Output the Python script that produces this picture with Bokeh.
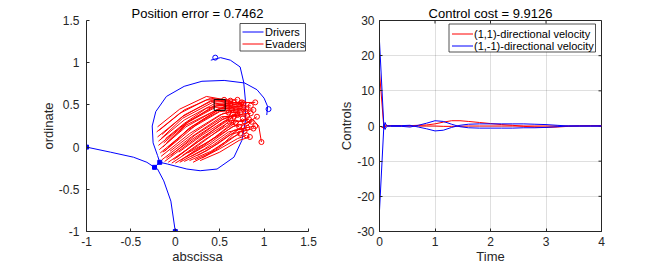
from bokeh.plotting import figure
from bokeh.layouts import row
from bokeh.models import FixedTicker
from bokeh.core.properties import value
from bokeh.embed import file_html
from bokeh.resources import INLINE

# ---------------- data: left panel ----------------
driver_xs = [
    [-1.0, -0.73, -0.47, -0.32, -0.234, -0.175, -0.20, -0.25, -0.26, -0.22, -0.10, 0.10, 0.30, 0.55, 0.78, 0.92, 1.00, 1.04, 1.03],
    [0.0, -0.05, -0.13, -0.20, -0.234, -0.175, -0.09, 0.13, 0.28, 0.47, 0.66, 0.75, 0.79, 0.79, 0.77, 0.73, 0.62, 0.51, 0.40],
]
driver_ys = [
    [0.0, -0.06, -0.12, -0.18, -0.24, -0.18, -0.10, 0.05, 0.25, 0.42, 0.60, 0.72, 0.78, 0.79, 0.76, 0.68, 0.58, 0.48, 0.38],
    [-1.0, -0.64, -0.40, -0.26, -0.24, -0.18, -0.20, -0.26, -0.28, -0.26, -0.12, 0.08, 0.31, 0.55, 0.77, 0.95, 1.03, 1.06, 1.03],
]
driver_mark_x = [-1.0, 0.0, -0.234, -0.175]
driver_mark_y = [0.0, -1.0, -0.24, -0.18]
driver_end_x = [1.05, 0.45]
driver_end_y = [0.45, 1.06]

evader_xs = [
    [-0.20, 0.05, 0.35, 0.62],
    [-0.21, 0.05, 0.35, 0.70],
    [-0.20, 0.08, 0.40, 0.77],
    [-0.19, 0.10, 0.45, 0.90],
    [-0.19, 0.10, 0.45, 0.85],
    [-0.18, 0.12, 0.48, 0.73],
    [-0.17, 0.14, 0.50, 0.68],
    [-0.16, 0.16, 0.50, 0.77],
    [-0.15, 0.18, 0.52, 0.81],
    [-0.12, 0.20, 0.52, 0.73],
    [-0.08, 0.24, 0.55, 0.66],
    [-0.04, 0.26, 0.55, 0.62],
    [0.00, 0.30, 0.58, 0.68],
    [0.05, 0.33, 0.60, 0.81],
    [0.10, 0.36, 0.62, 0.88],
    [0.16, 0.40, 0.65, 0.73],
    [0.22, 0.45, 0.70, 0.88, 0.94, 0.97],
    [0.30, 0.50, 0.70, 0.80],
    [-0.10, 0.15, 0.45, 0.75],
    [-0.12, 0.15, 0.48, 0.62],
    [-0.05, 0.22, 0.55, 0.85],
    [0.02, 0.28, 0.60, 0.78],
    [-0.18, 0.10, 0.40, 0.66],
    [0.08, 0.32, 0.62, 0.72],
    [-0.14, 0.12, 0.50, 0.80],
    [0.12, 0.38, 0.64, 0.86],
    [-0.16, 0.08, 0.42, 0.58],
    [0.18, 0.42, 0.66, 0.90],
    [-0.10, 0.20, 0.55, 0.70],
    [-0.02, 0.25, 0.58, 0.83],
    [0.25, 0.48, 0.72, 0.78],
    [-0.15, 0.10, 0.40, 0.55],
    [-0.08, 0.18, 0.52, 0.88],
    [0.04, 0.30, 0.60, 0.64],
    [-0.13, 0.14, 0.46, 0.72],
    [0.14, 0.40, 0.68, 0.76],
    [-0.06, 0.22, 0.54, 0.79],
    [0.28, 0.50, 0.72, 0.84],
    [-0.14, 0.05, 0.30, 0.55, 0.74],
    [0.06, 0.22, 0.45, 0.66, 0.70],
    [0.20, 0.35, 0.55, 0.75, 0.92],
    [-0.11, 0.10, 0.35, 0.62, 0.60],
]
evader_ys = [
    [0.24, 0.45, 0.60, 0.55],
    [0.18, 0.40, 0.56, 0.56],
    [0.12, 0.36, 0.55, 0.52],
    [0.07, 0.32, 0.52, 0.53],
    [0.02, 0.27, 0.47, 0.49],
    [-0.03, 0.24, 0.45, 0.48],
    [-0.07, 0.20, 0.42, 0.44],
    [-0.11, 0.16, 0.38, 0.47],
    [-0.15, 0.12, 0.36, 0.37],
    [-0.17, 0.08, 0.32, 0.41],
    [-0.18, 0.05, 0.30, 0.36],
    [-0.19, 0.02, 0.25, 0.33],
    [-0.19, 0.00, 0.22, 0.29],
    [-0.18, -0.02, 0.18, 0.23],
    [-0.17, -0.04, 0.15, 0.22],
    [-0.16, -0.05, 0.12, 0.16],
    [-0.15, -0.04, 0.15, 0.32, 0.25, 0.06],
    [-0.13, -0.02, 0.10, 0.14],
    [0.05, 0.30, 0.50, 0.53],
    [-0.05, 0.22, 0.44, 0.51],
    [-0.10, 0.14, 0.36, 0.40],
    [-0.12, 0.10, 0.32, 0.30],
    [0.20, 0.44, 0.58, 0.53],
    [-0.10, 0.08, 0.28, 0.24],
    [0.00, 0.26, 0.46, 0.45],
    [-0.12, 0.04, 0.24, 0.30],
    [0.10, 0.34, 0.53, 0.49],
    [-0.11, 0.02, 0.20, 0.25],
    [-0.13, 0.10, 0.34, 0.38],
    [-0.15, 0.06, 0.28, 0.33],
    [-0.10, 0.04, 0.22, 0.19],
    [0.15, 0.38, 0.54, 0.56],
    [0.00, 0.24, 0.44, 0.44],
    [-0.06, 0.14, 0.34, 0.44],
    [0.05, 0.30, 0.49, 0.50],
    [-0.07, 0.08, 0.26, 0.34],
    [-0.05, 0.18, 0.40, 0.42],
    [-0.16, -0.06, 0.08, 0.12],
    [-0.06, 0.10, 0.32, 0.48, 0.52],
    [-0.16, -0.04, 0.12, 0.30, 0.40],
    [-0.18, -0.10, 0.05, 0.25, 0.36],
    [0.10, 0.28, 0.46, 0.52, 0.41],
]
target_x = [0.5]
target_y = [0.5]

left_xticks = [-1, -0.5, 0, 0.5, 1, 1.5]
left_xtick_labels = ["-1", "-0.5", "0", "0.5", "1", "1.5"]
left_yticks = [-1, -0.5, 0, 0.5, 1, 1.5]
left_ytick_labels = ["-1", "-0.5", "0", "0.5", "1", "1.5"]
left_legend_labels = ["Drivers", "Evaders"]

# ---------------- data: right panel ----------------
time = [0, 0.08, 0.1, 0.12, 0.15, 0.2, 0.4, 0.55, 0.7, 0.85, 1.0, 1.15, 1.3, 1.45,
        1.6, 1.8, 2.0, 2.2, 2.4, 2.6, 2.8, 3.0, 3.2, 3.4, 3.6, 3.8, 4.0]
u11_a = [15.3, -0.8, -0.3, 0.1, 0.0, 0.1, 0.1, 0.1, 0.2, 0.3, 0.6, 1.1, 1.5, 1.5,
         1.3, 1.0, 0.7, 0.4, 0.2, -0.1, -0.3, -0.4, -0.3, -0.1, 0.05, 0.1, 0.1]
u11_b = [0.0, -0.6, 0.3, 0.2, 0.1, 0.1, 0.0, 0.0, 0.0, 0.0, 0.0, -0.1, -0.1, -0.1,
         0.0, 0.0, 0.0, 0.0, 0.0, 0.0, 0.0, 0.0, 0.0, 0.0, 0.0, 0.0, 0.0]
u1m1_a = [24.0, -0.5, 1.0, 0.3, 0.0, -0.1, -0.1, -0.3, 0.2, 0.8, 1.5, 1.3, 0.5, -0.2,
          -0.5, -0.6, -0.6, -0.6, -0.6, -0.5, -0.5, -0.4, -0.2, 0.0, 0.0, 0.0, 0.0]
u1m1_b = [-24.0, 0.5, -1.0, -0.3, 0.0, 0.1, 0.1, 0.2, -0.3, -0.8, -1.4, -1.2, -0.4, 0.2,
          0.5, 0.6, 0.6, 0.6, 0.6, 0.6, 0.5, 0.4, 0.2, 0.0, 0.0, 0.0, 0.0]

right_xticks = [0, 1, 2, 3, 4]
right_xtick_labels = ["0", "1", "2", "3", "4"]
right_yticks = [-30, -20, -10, 0, 10, 20, 30]
right_ytick_labels = ["-30", "-20", "-10", "0", "10", "20", "30"]
right_legend_labels = ["(1,1)-directional velocity", "(1,-1)-directional velocity"]

FONT = "Liberation Sans"
AX = "#262626"
BLUE = "#0000FF"
RED = "#FF0000"

# layout (pixels inside each 332x266 figure)
FIG_W, FIG_H = 332, 266
BORDER_TOP, BORDER_BOTTOM = 20, 35
LEFT_BORDERS = (86, 24)
RIGHT_BORDERS = (47, 63)
TICK_LEN = 3
# legend boxes, pixels relative to the frame's top-left corner:
# (box_left, box_top, box_right, box_bottom, glyph_x0, glyph_x1, text_x, row_ys)
LEFT_LEG_BOX = (153.5, 3.0, 219.0, 30.5, 156.0, 177.0, 178.5, (11.5, 23.5))
RIGHT_LEG_BOX = (69.5, 3.5, 216.0, 31.5, 72.5, 93.5, 94.5, (13.5, 25.5))


def frame_size(borders):
    return FIG_W - borders[0] - borders[1], FIG_H - BORDER_TOP - BORDER_BOTTOM


def style_axes(p, xt, xl, yt, yl):
    p.xaxis.ticker = FixedTicker(ticks=xt)
    p.yaxis.ticker = FixedTicker(ticks=yt)
    p.xaxis.major_label_overrides = dict(zip(xt, xl))
    p.yaxis.major_label_overrides = dict(zip(yt, yl))
    for ax in p.axis:
        ax.major_tick_in = TICK_LEN
        ax.major_tick_out = 0
        ax.minor_tick_line_color = None
        ax.axis_line_color = AX
        ax.major_tick_line_color = AX
        ax.major_label_text_color = AX
        ax.major_label_text_font = FONT
        ax.major_label_text_font_size = "12px"
        ax.axis_label_text_font = FONT
        ax.axis_label_text_font_size = "13px"
        ax.axis_label_text_font_style = "normal"
        ax.axis_label_text_color = AX
        ax.axis_label_standoff = 0
    p.xaxis.major_label_standoff = 5
    p.yaxis.major_label_standoff = 7
    p.title.align = "center"
    p.title.text_font = FONT
    p.title.text_font_size = "13px"
    p.title.text_font_style = "normal"
    p.title.text_color = "#000000"
    p.title.standoff = 0


def draw_legend(p, xr, yr, borders, box, labels, colors):
    fw, fh = frame_size(borders)

    def dx(px):
        return xr[0] + px / fw * (xr[1] - xr[0])

    def dy(py):
        return yr[1] - py / fh * (yr[1] - yr[0])

    bl, bt, br, bb, g0, g1, tx, rows = box
    p.quad(left=[dx(bl)], right=[dx(br)], top=[dy(bt)], bottom=[dy(bb)],
           fill_color="white", line_color=AX, line_width=0.8)
    for r, c in zip(rows, colors):
        p.line(x=[dx(g0), dx(g1)], y=[dy(r), dy(r)], line_color=c, line_width=1)
    p.text(x=[dx(tx)] * len(rows), y=[dy(r) for r in rows], text=labels,
           text_font=value(FONT), text_font_size=value("11px"),
           text_baseline="middle", text_align="left", text_color="#000000")


# ---------------- left figure ----------------
left_xr, left_yr = (-1, 1.5), (-1, 1.5)
p1 = figure(width=FIG_W, height=FIG_H, x_range=left_xr, y_range=left_yr,
            output_backend="svg", toolbar_location=None,
            min_border_left=LEFT_BORDERS[0], min_border_right=LEFT_BORDERS[1],
            min_border_top=BORDER_TOP, min_border_bottom=BORDER_BOTTOM,
            title="Position error = 0.7462")
p1.outline_line_color = None
p1.grid.grid_line_color = None
p1.xaxis.axis_label = "abscissa"
p1.yaxis.axis_label = "ordinate"
style_axes(p1, left_xticks, left_xtick_labels, left_yticks, left_ytick_labels)

p1.multi_line(xs=driver_xs, ys=driver_ys, line_color=BLUE, line_width=1)
p1.scatter(driver_mark_x, driver_mark_y, marker="square", size=4,
           fill_color=BLUE, line_color=BLUE)
p1.scatter(driver_end_x, driver_end_y, marker="circle", size=5,
           fill_color=None, line_color=BLUE, line_width=1)
p1.multi_line(xs=evader_xs, ys=evader_ys, line_color=RED, line_width=1)
p1.scatter([xs[-1] for xs in evader_xs], [ys[-1] for ys in evader_ys],
           marker="circle", size=5, fill_color=None, line_color=RED, line_width=1)
p1.scatter(target_x, target_y, marker="square", size=11, fill_color=None,
           line_color="#000000", line_width=1)
draw_legend(p1, left_xr, left_yr, LEFT_BORDERS, LEFT_LEG_BOX, left_legend_labels, [BLUE, RED])

# ---------------- right figure ----------------
right_xr, right_yr = (0, 4), (-30, 30)
p2 = figure(width=FIG_W, height=FIG_H, x_range=right_xr, y_range=right_yr,
            output_backend="svg", toolbar_location=None,
            min_border_left=RIGHT_BORDERS[0], min_border_right=RIGHT_BORDERS[1],
            min_border_top=BORDER_TOP, min_border_bottom=BORDER_BOTTOM,
            title="Control cost = 9.9126")
p2.outline_line_color = AX
p2.outline_line_width = 1
p2.grid.grid_line_color = AX
p2.grid.grid_line_alpha = 0.15
p2.xgrid.ticker = FixedTicker(ticks=right_xticks)
p2.ygrid.ticker = FixedTicker(ticks=right_yticks)
p2.xaxis.axis_label = "Time"
p2.yaxis.axis_label = "Controls"
style_axes(p2, right_xticks, right_xtick_labels, right_yticks, right_ytick_labels)
p2.yaxis.major_label_standoff = 5

# box-on tick marks along the top and right edges (inward, like the axis ticks)
fw2, fh2 = frame_size(RIGHT_BORDERS)
tick_dy = TICK_LEN / fh2 * (right_yr[1] - right_yr[0])
tick_dx = TICK_LEN / fw2 * (right_xr[1] - right_xr[0])
p2.segment(x0=right_xticks, x1=right_xticks, y0=[right_yr[1]] * len(right_xticks),
           y1=[right_yr[1] - tick_dy] * len(right_xticks), line_color=AX, line_width=1)
p2.segment(x0=[right_xr[1]] * len(right_yticks), x1=[right_xr[1] - tick_dx] * len(right_yticks),
           y0=right_yticks, y1=right_yticks, line_color=AX, line_width=1)

p2.line(time, u11_a, line_color=RED, line_width=1)
p2.line(time, u11_b, line_color=RED, line_width=1)
p2.line(time, u1m1_a, line_color=BLUE, line_width=1)
p2.line(time, u1m1_b, line_color=BLUE, line_width=1)
draw_legend(p2, right_xr, right_yr, RIGHT_BORDERS, RIGHT_LEG_BOX, right_legend_labels, [RED, BLUE])

layout = row(p1, p2)
open("out.html", "w").write(file_html(layout, INLINE))
